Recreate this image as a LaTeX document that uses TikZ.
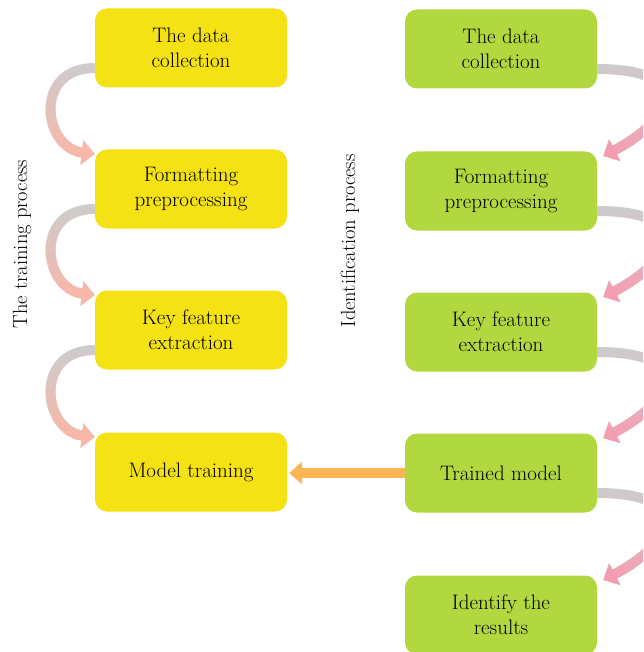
\documentclass[tikz,border=0pt]{standalone}
\usepackage{tikz}
\usetikzlibrary{arrows.meta,fadings}

\definecolor{boxyellow}{HTML}{F4E214}
\definecolor{boxgreen}{HTML}{B1D93F}
\definecolor{bandgray}{HTML}{CDCDCD}
\definecolor{bandsalmon}{HTML}{FBB6A6}
\definecolor{bandpink}{HTML}{F89BAF}
\definecolor{linkorange}{HTML}{FBB653}

\tikzfading[name=fadedown, top color=transparent!100, middle color=transparent!60, bottom color=transparent!0]

\tikzset{
	trainbox/.style={fill=boxyellow, rounded corners=12pt, minimum width=192pt, minimum height=79pt,
		align=center, inner sep=0pt, font=\fontsize{21}{25}\selectfont},
	idbox/.style={trainbox, fill=boxgreen},
	sidelabel/.style={rotate=90, font=\fontsize{20.5}{24}\selectfont},
	band/.style={line width=10pt, -{Triangle[width=24pt,length=13pt]}},
	bandtop/.style={band, draw=bandgray},
	bandleft/.style={band, draw=bandsalmon, path fading=fadedown},
	bandright/.style={band, draw=bandpink, path fading=fadedown}
}

\begin{document}
\begin{tikzpicture}[x=1pt, y=-1pt]
				\clip (0,0) rectangle (643,652);

				% training column
				\node[trainbox] (t1) at (191,48) {The data\\collection};
				\node[trainbox] (t2) at (191,189) {Formatting\\preprocessing};
				\node[trainbox] (t3) at (191,330) {Key feature\\extraction};
				\node[trainbox] (t4) at (191,472) {Model training};
				\node[sidelabel] (tlabel) at (22,244) {The training process};

				% identification column
				\node[idbox] (i1) at (501,49) {The data\\collection};
				\node[idbox] (i2) at (501,191) {Formatting\\preprocessing};
				\node[idbox] (i3) at (501,332) {Key feature\\extraction};
				\node[idbox] (i4) at (501,473) {Trained model};
				\node[idbox] (i5) at (501,615) {Identify the\\results};
				\node[sidelabel] (ilabel) at (350,241) {Identification process};

				% loops on the left, gray fading into salmon
				\draw[bandtop] ([yshift=-20pt]t1.west) .. controls +(-62,0) and +(-52,-6) .. ([yshift=35pt]t2.west);
				\draw[bandleft] ([yshift=-20pt]t1.west) .. controls +(-62,0) and +(-52,-6) .. ([yshift=35pt]t2.west);
				\draw[bandtop] ([yshift=-20pt]t2.west) .. controls +(-62,0) and +(-52,-6) .. ([yshift=35pt]t3.west);
				\draw[bandleft] ([yshift=-20pt]t2.west) .. controls +(-62,0) and +(-52,-6) .. ([yshift=35pt]t3.west);
				\draw[bandtop] ([yshift=-20pt]t3.west) .. controls +(-62,0) and +(-52,-6) .. ([yshift=35pt]t4.west);
				\draw[bandleft] ([yshift=-20pt]t3.west) .. controls +(-62,0) and +(-52,-6) .. ([yshift=35pt]t4.west);

				% loops on the right, gray fading into pink
				\draw[bandtop] ([yshift=-20pt]i1.east) .. controls +(100,0) and +(68,-35) .. ([xshift=6pt,yshift=35pt]i2.east);
				\draw[bandright] ([yshift=-20pt]i1.east) .. controls +(100,0) and +(68,-35) .. ([xshift=6pt,yshift=35pt]i2.east);
				\draw[bandtop] ([yshift=-20pt]i2.east) .. controls +(100,0) and +(68,-35) .. ([xshift=6pt,yshift=35pt]i3.east);
				\draw[bandright] ([yshift=-20pt]i2.east) .. controls +(100,0) and +(68,-35) .. ([xshift=6pt,yshift=35pt]i3.east);
				\draw[bandtop] ([yshift=-20pt]i3.east) .. controls +(100,0) and +(68,-35) .. ([xshift=6pt,yshift=35pt]i4.east);
				\draw[bandright] ([yshift=-20pt]i3.east) .. controls +(100,0) and +(68,-35) .. ([xshift=6pt,yshift=35pt]i4.east);
				\draw[bandtop] ([yshift=-20pt]i4.east) .. controls +(100,0) and +(68,-35) .. ([xshift=6pt,yshift=35pt]i5.east);
				\draw[bandright] ([yshift=-20pt]i4.east) .. controls +(100,0) and +(68,-35) .. ([xshift=6pt,yshift=35pt]i5.east);

				% trained model handed back
				\draw[linkorange, line width=10pt, -{Triangle[width=22pt,length=13pt]}] (i4.west) -- ([xshift=2pt]i4.west -| t4.east);
			\end{tikzpicture}
\end{document}
